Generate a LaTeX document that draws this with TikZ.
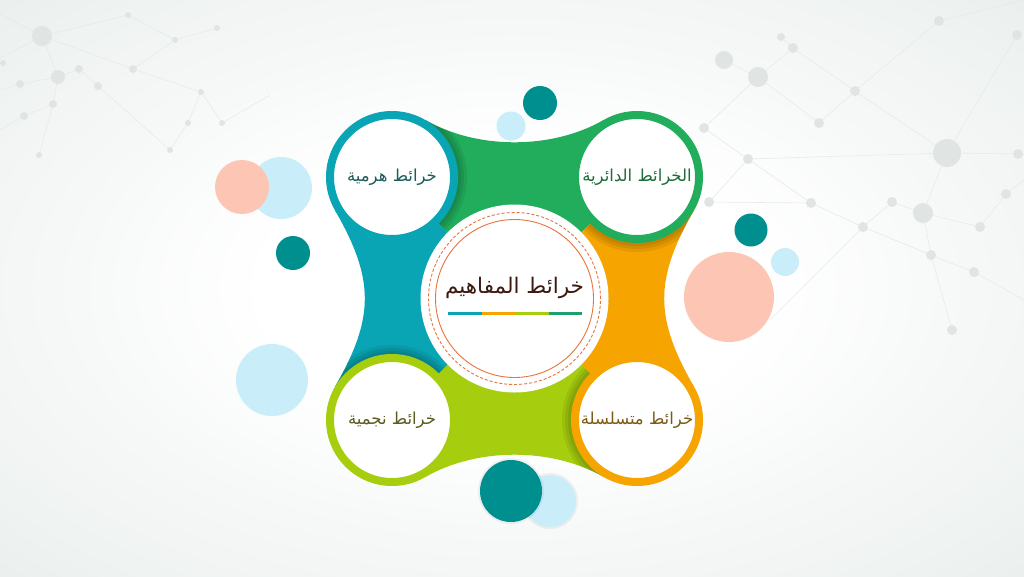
\documentclass[tikz,border=0pt]{standalone}
\usepackage{fontspec}
\newfontfamily\arabicfont[Script=Arabic]{DejaVu Sans}
\TeXXeTstate=1
\definecolor{cteal}{RGB}{10,165,180}
\definecolor{cgreen}{RGB}{33,173,92}
\definecolor{corange}{RGB}{246,165,0}
\definecolor{clime}{RGB}{166,206,14}
\definecolor{dteal}{RGB}{0,143,143}
\definecolor{lblue}{RGB}{201,238,249}
\definecolor{salmon}{RGB}{253,198,180}
\definecolor{ringred}{RGB}{232,116,60}
\definecolor{bgout}{RGB}{222,230,227}
\definecolor{netc}{RGB}{230,235,233}
\definecolor{netd}{RGB}{224,229,227}
\definecolor{ttl}{RGB}{30,92,92}
\definecolor{ttr}{RGB}{30,108,58}
\definecolor{tbl}{RGB}{92,90,30}
\definecolor{tbr}{RGB}{124,90,20}
\definecolor{tcen}{RGB}{60,26,16}
\definecolor{useg}{RGB}{30,160,110}
\pgfdeclareradialshading{bgshade}{\pgfpoint{0bp}{0bp}}{color(0bp)=(white); color(12bp)=(white); color(50bp)=(bgout); color(80bp)=(bgout)}
\newcommand\pathTop{(425,119.8) .. controls (477,149.8) and (552,149.8) .. (604,119.8) -- (cTR) -- (cC) -- (cTL) -- cycle}
\newcommand\pathLeft{(334.8,210) .. controls (374.8,279.3) and (374.8,317.7) .. (334.8,387) -- (cBL) -- (cC) -- (cTL) -- cycle}
\newcommand\pathBottom{(425,477.2) .. controls (477,447.2) and (552,447.2) .. (604,477.2) -- (cBR) -- (cC) -- (cBL) -- cycle}
\newcommand\pathRight{(694.2,210) .. controls (654.2,279.3) and (654.2,317.7) .. (694.2,387) -- (cBR) -- (cC) -- (cTR) -- cycle}
\begin{document}
\begin{tikzpicture}[x=1pt,y=-1pt,
  ring/.style={circle, fill=white, line width=8pt, minimum size=124pt, inner sep=0pt},
  lbl/.style={font=\arabicfont\fontsize{16.5}{20}\selectfont},
  netline/.style={draw=netc, line width=0.6pt},
  netdot/.style={fill=netd},
  shadowc/.style={fill=black, opacity=0.07}]
\useasboundingbox (0,0) rectangle (1024,576);
\shade[shading=bgshade] (0,0) rectangle (1024,576);
% background network, top left
\foreach \a/\b in {{(42,36)}/{(0,14)},{(42,36)}/{(0,58)},{(42,36)}/{(58,77)},{(42,36)}/{(133,69)},{(42,36)}/{(128,15)},{(58,77)}/{(20,84)},{(58,77)}/{(53,104)},{(58,77)}/{(79,69)},{(53,104)}/{(24,116)},{(53,104)}/{(39,155)},{(24,116)}/{(0,130)},{(79,69)}/{(98,86)},{(98,86)}/{(170,150)},{(133,69)}/{(175,40)},{(133,69)}/{(201,92)},{(175,40)}/{(217,28)},{(201,92)}/{(188,123)},{(201,92)}/{(222,123)},{(188,123)}/{(170,150)},{(222,123)}/{(270,95)},{(20,84)}/{(0,90)},{(128,15)}/{(175,40)}}
  \draw[netline] \a -- \b;
\foreach \p/\r in {{(42,36)}/10,{(58,77)}/7,{(79,69)}/4,{(20,84)}/4,{(98,86)}/4,{(133,69)}/4,{(53,104)}/4,{(24,116)}/4,{(3,63)}/3,{(128,15)}/3,{(175,40)}/3,{(201,92)}/3,{(188,123)}/3,{(222,123)}/3,{(170,150)}/3,{(217,28)}/3,{(39,155)}/3}
  \fill[netdot] \p circle[radius=\r pt];
% background network, top right
\foreach \a/\b in {{(947,153)}/{(748,159)},{(947,153)}/{(1017,35)},{(947,153)}/{(1024,154)},{(947,153)}/{(923,213)},{(947,153)}/{(855,91)},{(923,213)}/{(892,202)},{(923,213)}/{(931,255)},{(923,213)}/{(980,227)},{(855,91)}/{(939,21)},{(855,91)}/{(819,123)},{(855,91)}/{(793,48)},{(758,77)}/{(793,48)},{(758,77)}/{(819,123)},{(758,77)}/{(704,128)},{(748,159)}/{(811,203)},{(811,203)}/{(863,227)},{(863,227)}/{(892,202)},{(863,227)}/{(931,255)},{(931,255)}/{(974,272)},{(931,255)}/{(952,330)},{(974,272)}/{(1024,300)},{(980,227)}/{(1006,194)},{(1006,194)}/{(1024,180)},{(811,203)}/{(709,202)},{(748,159)}/{(704,128)},{(748,159)}/{(709,202)},{(781,37)}/{(793,48)},{(724,60)}/{(758,77)},{(863,227)}/{(770,320)},{(939,21)}/{(1024,0)}}
  \draw[netline] \a -- \b;
\foreach \p/\r in {{(947,153)}/14,{(923,213)}/10,{(758,77)}/10,{(724,60)}/9,{(855,91)}/5,{(819,123)}/5,{(939,21)}/5,{(1017,35)}/5,{(1018,154)}/5,{(1006,194)}/5,{(980,227)}/5,{(892,202)}/5,{(863,227)}/5,{(931,255)}/5,{(974,272)}/5,{(811,203)}/5,{(748,159)}/5,{(704,128)}/5,{(709,202)}/5,{(793,48)}/5,{(781,37)}/4,{(952,330)}/5}
  \fill[netdot] \p circle[radius=\r pt];
% decorative circles
\fill[lblue] (281,188) circle[radius=31pt];
\fill[salmon] (242,187) circle[radius=27pt];
\fill[dteal] (293,253) circle[radius=17pt];
\fill[lblue] (272,380) circle[radius=36pt];
\fill[lblue] (511,126) circle[radius=14.5pt];
\fill[dteal] (540,103) circle[radius=17pt];
\fill[black, opacity=0.05] (550,501) circle[radius=28pt];
\fill[lblue] (550,501) circle[radius=26pt];
\fill[black, opacity=0.05] (511,491) circle[radius=33pt];
\fill[dteal] (511,491) circle[radius=31pt];
\fill[dteal] (751,230) circle[radius=16.5pt];
\fill[lblue] (785,262) circle[radius=14pt];
\fill[salmon] (729,297) circle[radius=45pt];
% geometry
\coordinate (cTL) at (392,177);
\coordinate (cTR) at (637,177);
\coordinate (cBL) at (392,420);
\coordinate (cBR) at (637,420);
\coordinate (cC) at (514.5,298.5);
% bands
\fill[cgreen] \pathTop;
\fill[cteal] \pathLeft;
\fill[clime] \pathBottom;
\fill[corange] \pathRight;
% shadows of the circle lying over each band
\begin{scope}\clip \pathTop;
  \foreach \r in {75,72,69} \fill[shadowc] (cTL) circle[radius=\r pt];
\end{scope}
\begin{scope}\clip \pathLeft;
  \foreach \r in {75,72,69} \fill[shadowc] (cBL) circle[radius=\r pt];
\end{scope}
\begin{scope}\clip \pathBottom;
  \foreach \r in {75,72,69} \fill[shadowc] (cBR) circle[radius=\r pt];
\end{scope}
\begin{scope}\clip \pathRight;
  \foreach \r in {75,72,69} \fill[shadowc] (cTR) circle[radius=\r pt];
\end{scope}
% centre
\node[circle, fill=white, minimum size=188pt, inner sep=0pt] (centre) at (cC) {};
\draw[ringred, line width=0.9pt, dash pattern=on 3pt off 2pt] (centre.center) circle[radius=86pt];
\draw[ringred, line width=0.9pt] (centre.center) circle[radius=79pt];
\node[font=\arabicfont\fontsize{21.5}{26}\selectfont, text=tcen] (ctitle) at (514.5,288) {\beginR خرائط المفاهيم\endR};
\coordinate (u0) at (448,313);
\coordinate (u1) at (481.5,313);
\coordinate (u2) at (515,313);
\coordinate (u3) at (548.5,313);
\coordinate (u4) at (582,313);
\draw[cteal, line width=3pt] (u0) -- (u1);
\draw[corange, line width=3pt] (u1) -- (u2);
\draw[clime, line width=3pt] (u2) -- (u3);
\draw[useg, line width=3pt] (u3) -- (u4);
% four circles
\node[ring, draw=cteal, text=ttl, lbl] (tl) at (cTL) {\beginR خرائط هرمية\endR};
\node[ring, draw=cgreen, text=ttr, lbl] (tr) at (cTR) {\beginR الخرائط الدائرية\endR};
\node[ring, draw=clime, text=tbl, lbl] (bl) at (cBL) {\beginR خرائط نجمية\endR};
\node[ring, draw=corange, text=tbr, lbl] (br) at (cBR) {\beginR خرائط متسلسلة\endR};
\end{tikzpicture}
\end{document}
